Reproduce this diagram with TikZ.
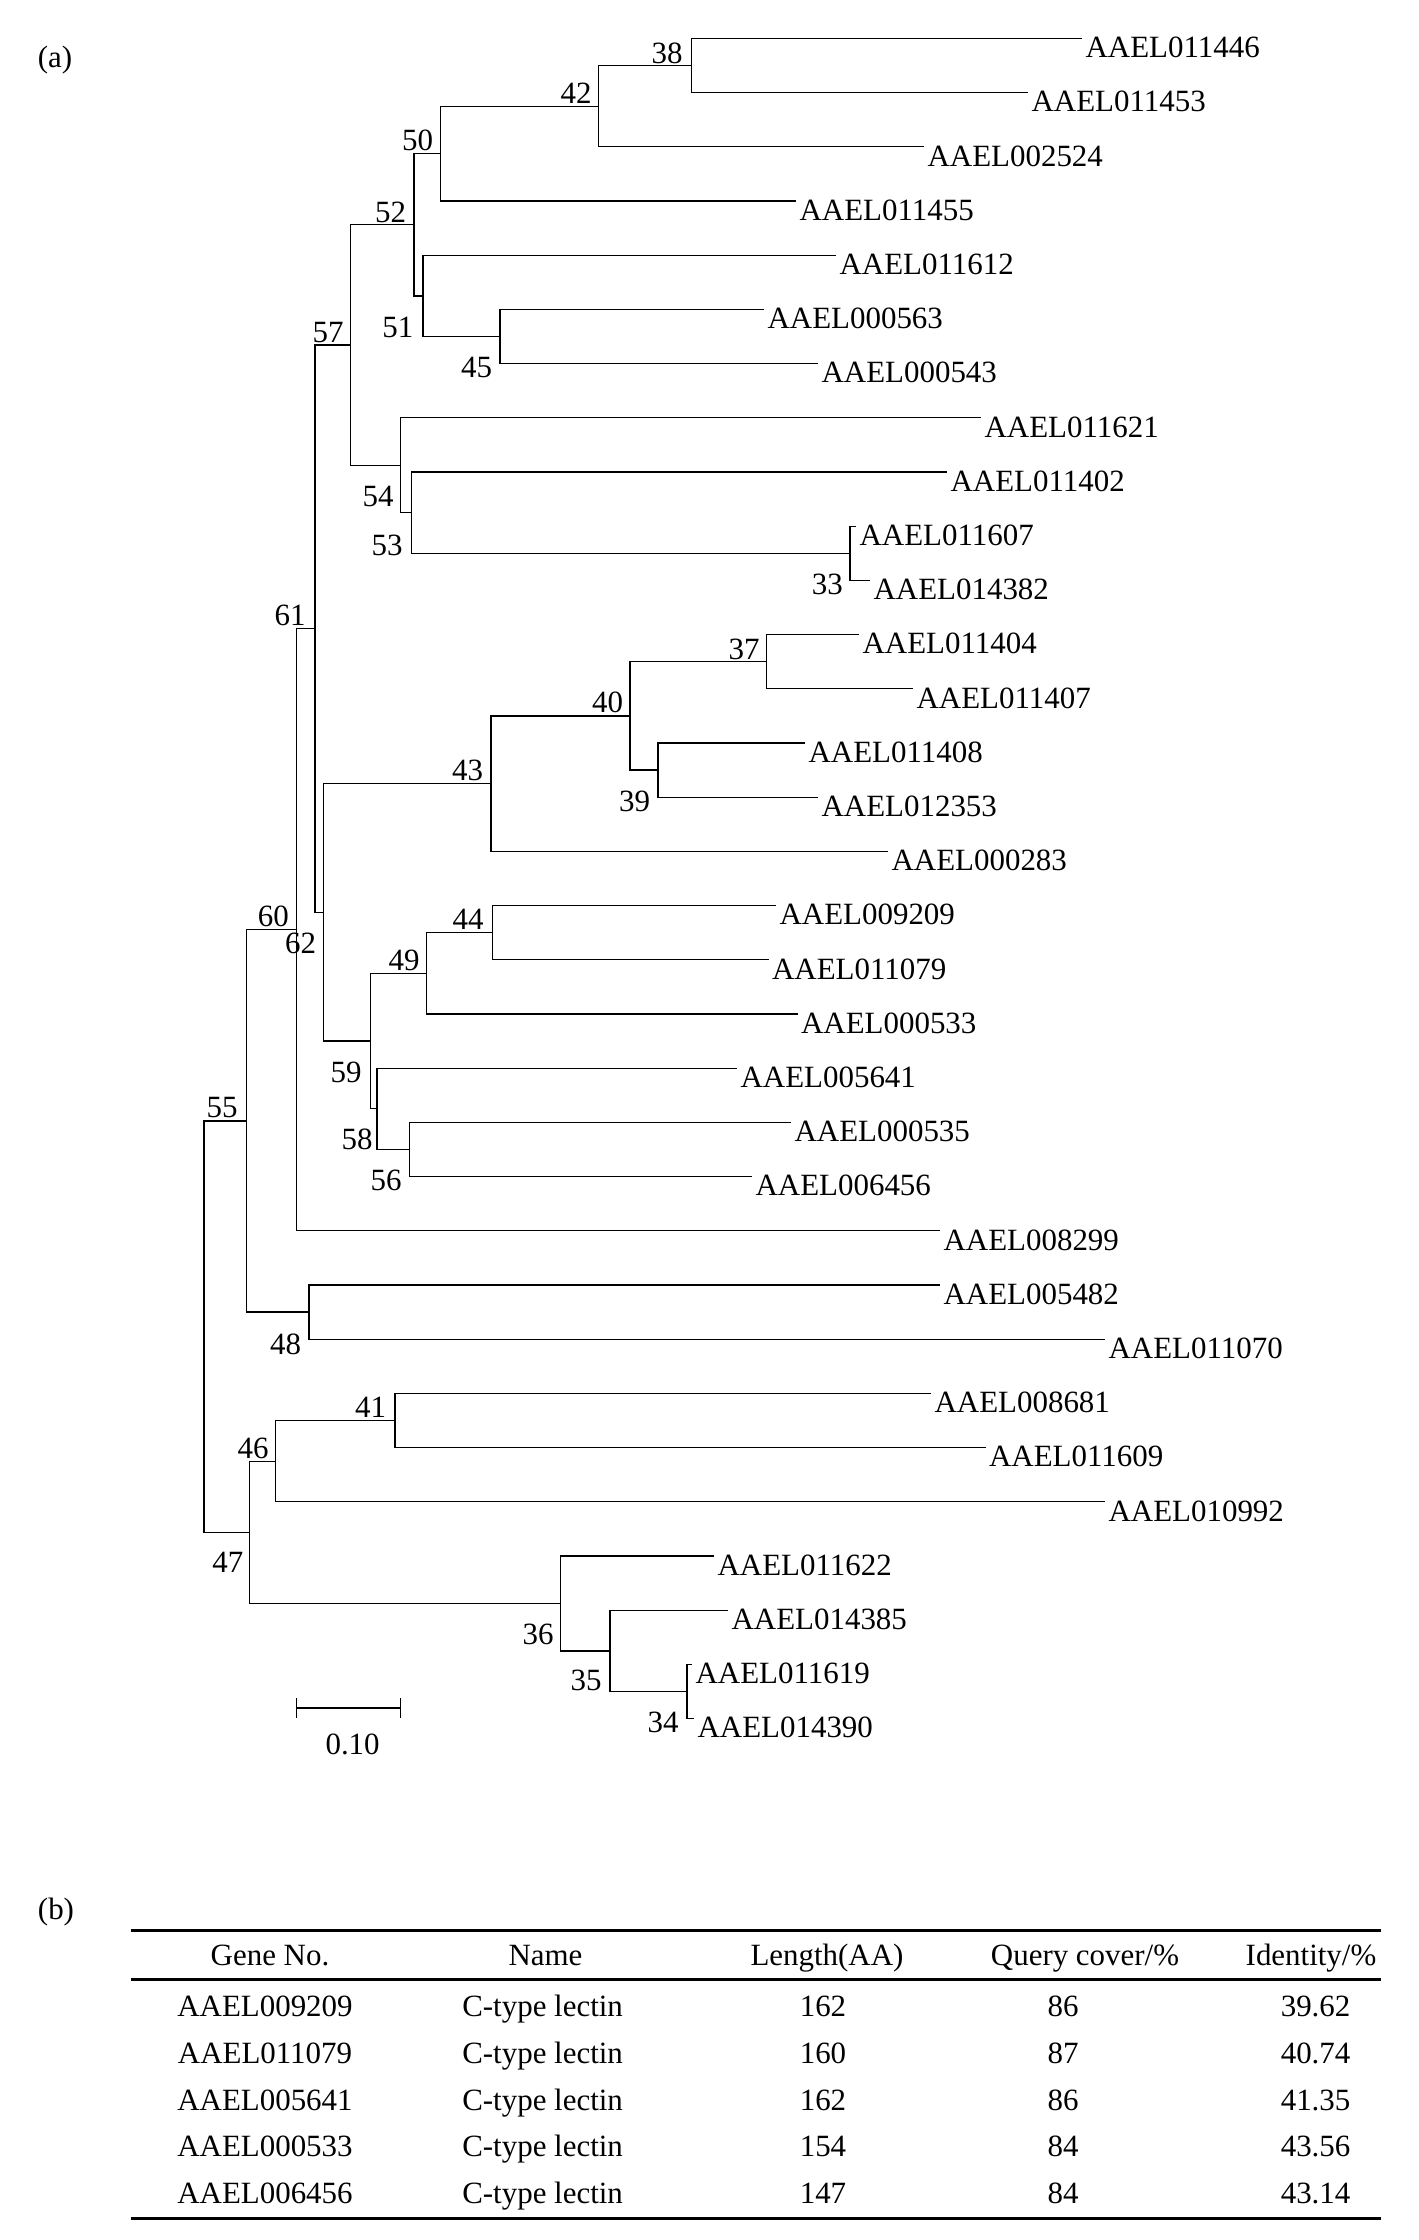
\documentclass[tikz,border=0pt]{standalone}
\usepackage{fontspec}
\setmainfont{Liberation Serif}
\begin{document}
\begin{tikzpicture}[x=0.1mm,y=-0.1mm,line width=0.13mm,
  font=\fontsize{8.8}{10}\selectfont,inner sep=0pt,
  branch/.style={draw,to path={|- (\tikztotarget)}},
  leaf/.style={anchor=north west,xshift=0.3mm,yshift=0.2mm},
  cell/.style={anchor=base},
  toprule/.style={line width=0.28mm},
  midrule/.style={line width=0.23mm}]
\useasboundingbox (0,0) rectangle (1418,2240);

\node(a) at (55,60){(a)};

\coordinate(t01) at (1082,38.4);
\coordinate(t02) at (1028,92.6);
\coordinate(t03) at (924,146.8);
\coordinate(t04) at (796,201.0);
\coordinate(t05) at (836,255.2);
\coordinate(t06) at (764,309.4);
\coordinate(t07) at (818,363.6);
\coordinate(t08) at (981,417.8);
\coordinate(t09) at (947,472.0);
\coordinate(t10) at (856,526.2);
\coordinate(t11) at (870,580.4);
\coordinate(t12) at (859,634.6);
\coordinate(t13) at (913,688.8);
\coordinate(t14) at (805,743.0);
\coordinate(t15) at (818,797.2);
\coordinate(t16) at (888,851.4);
\coordinate(t17) at (776,905.6);
\coordinate(t18) at (768.5,959.8);
\coordinate(t19) at (797.5,1014.0);
\coordinate(t20) at (737,1068.2);
\coordinate(t21) at (791,1122.4);
\coordinate(t22) at (752,1176.6);
\coordinate(t23) at (940,1230.8);
\coordinate(t24) at (940,1285.0);
\coordinate(t25) at (1105,1339.2);
\coordinate(t26) at (931,1393.4);
\coordinate(t27) at (985.5,1447.6);
\coordinate(t28) at (1105,1501.8);
\coordinate(t29) at (714,1556.0);
\coordinate(t30) at (728,1610.2);
\coordinate(t31) at (692,1664.4);
\coordinate(t32) at (694,1718.6);

\node(g01) at (t01)[leaf]{AAEL011446};
\node(g02) at (t02)[leaf]{AAEL011453};
\node(g03) at (t03)[leaf]{AAEL002524};
\node(g04) at (t04)[leaf]{AAEL011455};
\node(g05) at (t05)[leaf]{AAEL011612};
\node(g06) at (t06)[leaf]{AAEL000563};
\node(g07) at (t07)[leaf]{AAEL000543};
\node(g08) at (t08)[leaf]{AAEL011621};
\node(g09) at (t09)[leaf]{AAEL011402};
\node(g10) at (t10)[leaf]{AAEL011607};
\node(g11) at (t11)[leaf]{AAEL014382};
\node(g12) at (t12)[leaf]{AAEL011404};
\node(g13) at (t13)[leaf]{AAEL011407};
\node(g14) at (t14)[leaf]{AAEL011408};
\node(g15) at (t15)[leaf]{AAEL012353};
\node(g16) at (t16)[leaf]{AAEL000283};
\node(g17) at (t17)[leaf]{AAEL009209};
\node(g18) at (t18)[leaf]{AAEL011079};
\node(g19) at (t19)[leaf]{AAEL000533};
\node(g20) at (t20)[leaf]{AAEL005641};
\node(g21) at (t21)[leaf]{AAEL000535};
\node(g22) at (t22)[leaf]{AAEL006456};
\node(g23) at (t23)[leaf]{AAEL008299};
\node(g24) at (t24)[leaf]{AAEL005482};
\node(g25) at (t25)[leaf]{AAEL011070};
\node(g26) at (t26)[leaf]{AAEL008681};
\node(g27) at (t27)[leaf]{AAEL011609};
\node(g28) at (t28)[leaf]{AAEL010992};
\node(g29) at (t29)[leaf]{AAEL011622};
\node(g30) at (t30)[leaf]{AAEL014385};
\node(g31) at (t31)[leaf]{AAEL011619};
\node(g32) at (t32)[leaf]{AAEL014390};

\coordinate(n33) at (850,553.3);
\coordinate(n34) at (687,1691.5);
\coordinate(n35) at (610,1650.9);
\coordinate(n36) at (560.6,1603.4);
\coordinate(n37) at (766.7,661.7);
\coordinate(n38) at (691.7,65.5);
\coordinate(n39) at (658,770.1);
\coordinate(n40) at (630,715.9);
\coordinate(n41) at (395,1420.5);
\coordinate(n42) at (598.6,106.2);
\coordinate(n43) at (491,783.6);
\coordinate(n44) at (492.8,932.7);
\coordinate(n45) at (500,336.5);
\coordinate(n46) at (275.8,1461.2);
\coordinate(n47) at (249.5,1532.3);
\coordinate(n48) at (309,1312.1);
\coordinate(n49) at (426.8,973.4);
\coordinate(n50) at (440.3,153.6);
\coordinate(n51) at (423.1,295.9);
\coordinate(n52) at (414.1,224.7);
\coordinate(n53) at (411.4,512.7);
\coordinate(n54) at (400.5,465.2);
\coordinate(n55) at (246.5,1121);
\coordinate(n56) at (409.6,1149.5);
\coordinate(n57) at (350.8,345.0);
\coordinate(n58) at (377,1108.8);
\coordinate(n59) at (370.7,1041.1);
\coordinate(n60) at (296.3,929.8);
\coordinate(n61) at (315,628.7);
\coordinate(n62) at (323.7,912.3);
\coordinate(root) at (204,1326.7);

\node(b33) at (827.3,584.4){33};
\node(b34) at (663,1722){34};
\node(b35) at (586,1680){35};
\node(b36) at (538,1634){36};
\node(b37) at (744,649.4){37};
\node(b38) at (667,53.4){38};
\node(b39) at (634.7,801){39};
\node(b40) at (607.6,702){40};
\node(b41) at (370.7,1407){41};
\node(b42) at (576,93){42};
\node(b43) at (467.5,770.8){43};
\node(b44) at (468,919.5){44};
\node(b45) at (476.5,367.7){45};
\node(b46) at (253,1448){46};
\node(b47) at (227.8,1562.5){47};
\node(b48) at (285.7,1344.6){48};
\node(b49) at (404,960){49};
\node(b50) at (417.7,140.4){50};
\node(b51) at (397.8,327.4){51};
\node(b52) at (390.6,212.3){52};
\node(b53) at (387,545.7){53};
\node(b54) at (378,496.2){54};
\node(b55) at (222,1108){55};
\node(b56) at (386,1180.5){56};
\node(b57) at (328.2,332.1){57};
\node(b58) at (357,1139.7){58};
\node(b59) at (346,1072.5){59};
\node(b60) at (273.3,916.7){60};
\node(b61) at (290,615){61};
\node(b62) at (300.7,943.3){62};

\path
  (n38) edge[branch] (t01)
  (n38) edge[branch] (t02)
  (n42) edge[branch] (n38)
  (n42) edge[branch] (t03)
  (n50) edge[branch] (n42)
  (n50) edge[branch] (t04)
  (n45) edge[branch] (t06)
  (n45) edge[branch] (t07)
  (n51) edge[branch] (t05)
  (n51) edge[branch] (n45)
  (n52) edge[branch] (n50)
  (n52) edge[branch] (n51)
  (n33) edge[branch] (t10)
  (n33) edge[branch] (t11)
  (n53) edge[branch] (t09)
  (n53) edge[branch] (n33)
  (n54) edge[branch] (t08)
  (n54) edge[branch] (n53)
  (n57) edge[branch] (n52)
  (n57) edge[branch] (n54)
  (n37) edge[branch] (t12)
  (n37) edge[branch] (t13)
  (n39) edge[branch] (t14)
  (n39) edge[branch] (t15)
  (n40) edge[branch] (n37)
  (n40) edge[branch] (n39)
  (n43) edge[branch] (n40)
  (n43) edge[branch] (t16)
  (n44) edge[branch] (t17)
  (n44) edge[branch] (t18)
  (n49) edge[branch] (n44)
  (n49) edge[branch] (t19)
  (n56) edge[branch] (t21)
  (n56) edge[branch] (t22)
  (n58) edge[branch] (t20)
  (n58) edge[branch] (n56)
  (n59) edge[branch] (n49)
  (n59) edge[branch] (n58)
  (n62) edge[branch] (n43)
  (n62) edge[branch] (n59)
  (n61) edge[branch] (n57)
  (n61) edge[branch] (n62)
  (n60) edge[branch] (n61)
  (n60) edge[branch] (t23)
  (n48) edge[branch] (t24)
  (n48) edge[branch] (t25)
  (n55) edge[branch] (n60)
  (n55) edge[branch] (n48)
  (n41) edge[branch] (t26)
  (n41) edge[branch] (t27)
  (n46) edge[branch] (n41)
  (n46) edge[branch] (t28)
  (n34) edge[branch] (t31)
  (n34) edge[branch] (t32)
  (n35) edge[branch] (t30)
  (n35) edge[branch] (n34)
  (n36) edge[branch] (t29)
  (n36) edge[branch] (n35)
  (n47) edge[branch] (n46)
  (n47) edge[branch] (n36)
  (root) edge[branch] (n55)
  (root) edge[branch] (n47);

\coordinate(s0) at (296.6,1708);
\coordinate(s1) at (400.5,1708);
\draw (s0) -- (s1);
\draw ([yshift=1mm]s0) -- ([yshift=-1mm]s0);
\draw ([yshift=1mm]s1) -- ([yshift=-1mm]s1);
\node(scale) at (352.6,1744.6){0.10};

\node(b) at (56,1911.7){(b)};

\draw[toprule] (131,1930.7) -- (1381,1930.7);
\draw[midrule] (131,1979.5) -- (1381,1979.5);
\draw[toprule] (131,2218.3) -- (1381,2218.3);

\node(h1) at (270,1965)[cell]{Gene No.};
\node(h2) at (545.5,1965)[cell]{Name};
\node(h3) at (827,1965)[cell]{Length(AA)};
\node(h4) at (1085,1965)[cell]{Query cover/\%};
\node(h5) at (1311,1965)[cell]{Identity/\%};

\node(r1c1) at (265,2016.7)[cell]{AAEL009209};
\node(r1c2) at (542.6,2016.7)[cell]{C-type lectin};
\node(r1c3) at (823,2016.7)[cell]{162};
\node(r1c4) at (1063,2016.7)[cell]{86};
\node(r1c5) at (1315.6,2016.7)[cell]{39.62};

\node(r2c1) at (265,2063.3)[cell]{AAEL011079};
\node(r2c2) at (542.6,2063.3)[cell]{C-type lectin};
\node(r2c3) at (823,2063.3)[cell]{160};
\node(r2c4) at (1063,2063.3)[cell]{87};
\node(r2c5) at (1315.6,2063.3)[cell]{40.74};

\node(r3c1) at (265,2110)[cell]{AAEL005641};
\node(r3c2) at (542.6,2110)[cell]{C-type lectin};
\node(r3c3) at (823,2110)[cell]{162};
\node(r3c4) at (1063,2110)[cell]{86};
\node(r3c5) at (1315.6,2110)[cell]{41.35};

\node(r4c1) at (265,2156.7)[cell]{AAEL000533};
\node(r4c2) at (542.6,2156.7)[cell]{C-type lectin};
\node(r4c3) at (823,2156.7)[cell]{154};
\node(r4c4) at (1063,2156.7)[cell]{84};
\node(r4c5) at (1315.6,2156.7)[cell]{43.56};

\node(r5c1) at (265,2203.3)[cell]{AAEL006456};
\node(r5c2) at (542.6,2203.3)[cell]{C-type lectin};
\node(r5c3) at (823,2203.3)[cell]{147};
\node(r5c4) at (1063,2203.3)[cell]{84};
\node(r5c5) at (1315.6,2203.3)[cell]{43.14};

\end{tikzpicture}
\end{document}
